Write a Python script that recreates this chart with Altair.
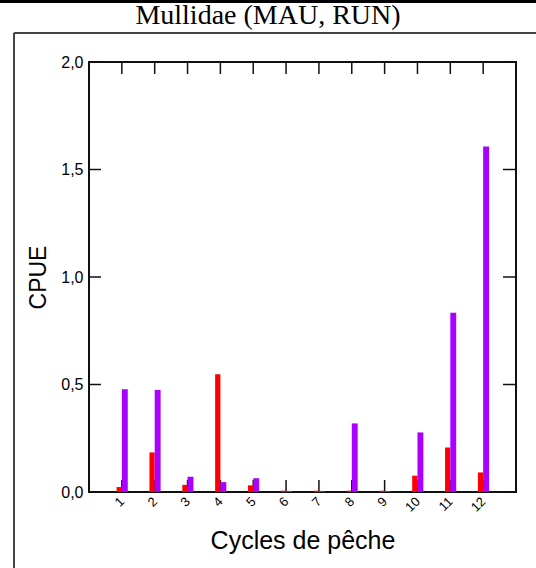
import altair as alt
import pandas as pd

# CPUE per fishing cycle, two sampling areas
cycles = list(range(1, 13))
mau_cpue = [0.023, 0.184, 0.033, 0.548, 0.031, 0.006, 0.006, 0.006, 0.006, 0.076, 0.207, 0.091]
run_cpue = [0.478, 0.475, 0.071, 0.046, 0.064, 0.005, 0.005, 0.319, 0.005, 0.277, 0.834, 1.607]
y_ticks = [0.0, 0.5, 1.0, 1.5, 2.0]

series_names = ["MAU", "RUN"]
series_colors = ["#ff0000", "#aa00ff"]

W, H = 427, 430
SANS = "Liberation Sans"

bars_df = pd.DataFrame(
    {
        "cycle": cycles * 2,
        "serie": ["MAU"] * len(cycles) + ["RUN"] * len(cycles),
        "cpue": mau_cpue + run_cpue,
    }
)
ytick_df = pd.DataFrame({"v": y_ticks})
xtick_df = pd.DataFrame({"c": cycles})

x_scale = alt.Scale(domain=[0, 13], nice=False, zero=True)
y_scale = alt.Scale(domain=[0, 2], nice=False)

x_axis = alt.Axis(
    values=cycles,
    labelAngle=315,
    labelAlign="right",
    labelBaseline="middle",
    labelPadding=7,
    labelFont=SANS,
    labelFontSize=13,
    labelColor="#000",
    labelOverlap=False,
    ticks=False,
    domain=False,
    grid=False,
    title="Cycles de pêche",
    titleFont=SANS,
    titleFontSize=25,
    titleFontWeight="normal",
    titleColor="#000",
    titlePadding=14,
)
y_axis = alt.Axis(
    values=y_ticks,
    labelExpr="replace(format(datum.value, '.1f'), '.', ',')",
    labelPadding=6,
    labelFont=SANS,
    labelFontSize=16,
    labelColor="#000",
    labelOverlap=False,
    ticks=False,
    domain=False,
    grid=False,
    title="CPUE",
    titleFont=SANS,
    titleFontSize=23,
    titleFontWeight="normal",
    titleColor="#000",
    titlePadding=10,
)

# bars: MAU to the left of each cycle, RUN to the right
bars = (
    alt.Chart(bars_df)
    .transform_calculate(
        x0="datum.serie == 'MAU' ? datum.cycle - 0.16 : datum.cycle",
        x1="datum.serie == 'MAU' ? datum.cycle : datum.cycle + 0.18",
        base="0",
    )
    .mark_bar()
    .encode(
        x=alt.X("x0:Q", scale=x_scale, axis=x_axis),
        x2="x1:Q",
        y=alt.Y("cpue:Q", scale=y_scale, axis=y_axis),
        y2="base:Q",
        color=alt.Color(
            "serie:N",
            scale=alt.Scale(domain=series_names, range=series_colors),
            legend=None,
        ),
    )
)

tick_color = "#111"
# inward ticks on all four sides
ytick_left = alt.Chart(ytick_df).mark_rule(color=tick_color, strokeWidth=1.5).encode(
    y=alt.Y("v:Q", scale=y_scale, axis=y_axis), x=alt.value(0), x2=alt.value(12)
)
ytick_right = alt.Chart(ytick_df).mark_rule(color=tick_color, strokeWidth=1.5).encode(
    y=alt.Y("v:Q", scale=y_scale, axis=y_axis), x=alt.value(W - 13), x2=alt.value(W)
)
xtick_top = alt.Chart(xtick_df).mark_rule(color=tick_color, strokeWidth=1.5).encode(
    x=alt.X("c:Q", scale=x_scale, axis=x_axis), y=alt.value(0), y2=alt.value(12)
)
xtick_bottom = alt.Chart(xtick_df).mark_rule(color=tick_color, strokeWidth=1.5).encode(
    x=alt.X("c:Q", scale=x_scale, axis=x_axis), y=alt.value(H - 12), y2=alt.value(H)
)

# outer frame around the figure
frame_left = alt.Chart(ytick_df).mark_rule(color="#444", strokeWidth=2).encode(
    x=alt.value(-75), y=alt.value(-29), y2=alt.value(H + 80)
)
frame_top = alt.Chart(ytick_df).mark_rule(color="#444", strokeWidth=2).encode(
    y=alt.value(-29), x=alt.value(-75), x2=alt.value(W + 25)
)
top_band = alt.Chart(ytick_df).mark_rule(color="#000", strokeWidth=4).encode(
    y=alt.value(-61), x=alt.value(-95), x2=alt.value(W + 25)
)

title = alt.Chart(pd.DataFrame({"t": ["Mullidae (MAU, RUN)"]})).mark_text(
    font="Liberation Serif", fontSize=28, color="#000", align="center", baseline="middle"
).encode(text="t:N", x=alt.value(179), y=alt.value(-46))

chart = (
    alt.layer(
        frame_left, frame_top, top_band,
        ytick_left, ytick_right, xtick_top, xtick_bottom,
        bars, title,
    )
    .properties(
        width=W,
        height=H,
        padding={"left": 89, "top": 62, "right": 20, "bottom": 76},
        autosize=alt.AutoSizeParams(type="none"),
        background="white",
    )
    .configure_view(stroke="#111", strokeWidth=2)
)

chart.save("out.html", embed_options={"renderer": "svg", "actions": False})
